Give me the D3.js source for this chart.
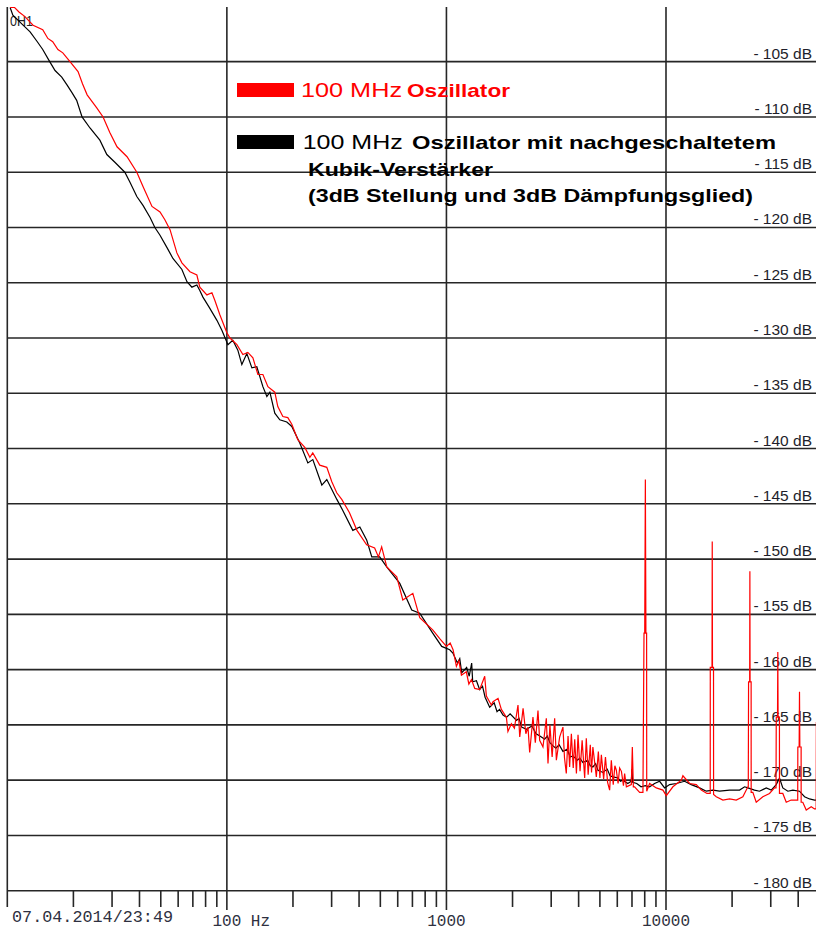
<!DOCTYPE html>
<html>
<head>
<meta charset="utf-8">
<script src="https://cdn.jsdelivr.net/npm/d3@7"></script>
<style>
  body { margin: 0; background: #fff; }
  svg { display: block; }
</style>
</head>
<body>
<svg id="phaseNoise" width="816" height="931"></svg>
<script>
// frequency [Hz], level [dB]
var redLow = [[10.3,-100.1],[10.8,-100.1],[11.3,-100.5],[12.0,-100.9],[13.1,-101.7],[14.5,-102.1],[15.3,-102.9],[16.1,-103.2],[17.0,-103.9],[17.9,-104.2],[19.3,-105.0],[21.0,-105.9],[22.0,-107.0],[23.1,-108.0],[25.6,-109.2],[27.3,-110.0],[29.3,-111.4],[31.6,-112.7],[35.1,-113.6],[38.9,-115.0],[41.5,-116.3],[45.6,-118.1],[49.6,-118.6],[52.2,-119.3],[55.1,-120.2],[59.2,-122.3],[62.4,-123.2],[67.9,-124.0],[73.0,-124.3],[75.3,-125.4],[81.1,-126.1],[85.5,-125.9],[88.2,-126.6],[92.9,-127.9],[99.9,-129.5],[103.3,-130.0],[111.1,-130.6],[118.3,-131.5],[124.6,-131.3],[131.4,-131.8],[138.4,-133.3],[145.9,-133.3],[153.8,-134.4],[165.3,-134.9],[170.6,-136.2],[179.9,-137.1],[189.5,-137.2],[197.6,-137.8],[210.4,-139.2],[226.5,-139.9],[238.8,-140.8],[246.2,-140.4],[264.9,-141.5],[285.2,-141.7],[300.6,-143.0],[316.5,-144.0],[333.6,-144.6],[361.8,-145.8],[391.3,-147.4],[433.1,-148.7],[471,-149.0],[490,-149.8],[507,-148.9],[535,-150.7],[594,-151.6],[633,-153.7],[703,-153.1],[756,-155.3],[866,-156.4],[932,-157.2],[1000,-157.9]];
var redMid = [[1040,-157.6],[1072,-158.2],[1110,-159.7],[1140,-159.2],[1170,-160.5],[1232,-160.2],[1265,-161.3],[1300,-160.9],[1346,-161.7],[1418,-161.8],[1494,-160.6],[1520,-162.4],[1602,-163.2],[1630,-162.9],[1718,-162.6],[1779,-163.6],[1875,-164.3],[1906,-165.6],[1976,-164.9],[2040,-165.3],[2118,-163.2],[2157,-166.1],[2234,-163.5],[2300,-165.8],[2352,-165.2],[2394,-167.5],[2478,-164.3],[2540,-166.6],[2612,-163.7],[2658,-166.4],[2752,-167.0],[2851,-164.4],[2901,-168.5],[2960,-165.0],[3030,-167.9],[3111,-164.4],[3167,-168.2],[3278,-166.1],[3393,-165.2],[3450,-168.0],[3515,-169.4],[3580,-166.0],[3640,-168.8],[3707,-165.8],[3780,-168.9],[3840,-166.3],[3908,-169.4],[3975,-165.9],[4060,-169.2],[4150,-166.4],[4262,-169.8],[4335,-166.2],[4420,-169.5],[4520,-166.8],[4580,-169.3],[4645,-167.0],[4816,-169.7],[4920,-167.4],[5000,-169.8],[5077,-167.7],[5200,-169.9],[5300,-167.9],[5420,-170.2],[5537,-170.9],[5636,-168.2],[5750,-170.4],[5850,-168.7],[5940,-169.1],[6050,-170.3],[6150,-168.9],[6266,-169.2],[6400,-170.5],[6480,-169.4],[6600,-170.6],[6950,-170.4],[7025,-167.0],[7100,-170.6],[7194,-170.6],[7585,-171.1],[7852,-171.1]];
var redHigh = [[7940,-156.7],[8000,-156.7],[8054,-142.8],[8100,-156.7],[8160,-156.7],[8170,-171.0],[8421,-170.3],[9032,-170.7],[9682,-170.9],[10030,-171.4],[10750,-170.6],[11740,-170.0],[11940,-169.6],[12810,-170.3],[13740,-170.4],[14480,-170.9],[15360,-171.2],[15900,-171.2],[15910,-159.8],[16200,-159.8],[16240,-148.4],[16280,-159.8],[16460,-159.8],[16470,-171.3],[16940,-171.5],[18160,-171.8],[19480,-171.7],[20890,-171.8],[22390,-171.5],[23600,-170.6],[23700,-170.6],[23770,-161.1],[24050,-161.1],[24100,-151.1],[24150,-161.1],[24420,-161.1],[24430,-171.1],[24860,-171.1],[25760,-172.0],[27610,-171.5],[29610,-171.2],[31190,-170.7],[31700,-170.7],[31780,-164.3],[32200,-164.3],[32300,-158.4],[32400,-164.3],[32860,-164.3],[32870,-171.2],[34040,-171.2],[35290,-172.0],[37160,-171.8],[39170,-171.8],[39800,-171.8],[39850,-167.0],[40400,-167.0],[40550,-162.0],[40700,-167.0],[41250,-167.0],[41260,-172.0],[41980,-172.0],[43520,-172.7],[45850,-172.4],[47480,-172.6],[48300,-172.6],[48400,-164.8],[49500,-164.8]];

var blackLow = [[10.3,-100.1],[10.6,-100.8],[11.8,-101.7],[12.7,-102.3],[13.7,-103.2],[14.5,-103.9],[15.6,-105.0],[16.5,-105.8],[17.7,-106.4],[18.7,-107.1],[19.7,-107.8],[20.7,-108.5],[21.9,-110.0],[23.8,-111.0],[26.4,-112.1],[28.4,-113.4],[30.9,-114.1],[34.3,-115.0],[36.2,-115.9],[38.9,-117.2],[41.5,-118.0],[44.7,-119.1],[47.0,-120.0],[49.6,-120.7],[53.3,-121.8],[56.8,-122.8],[62.4,-123.8],[65.8,-124.9],[69.3,-125.4],[73.0,-125.2],[75.3,-125.7],[77.8,-126.3],[83,-127.2],[90.1,-128.4],[94.9,-129.3],[101.1,-130.6],[106.4,-130.2],[112.2,-131.1],[117.0,-132.4],[123.3,-131.4],[130.0,-132.7],[136.9,-132.6],[145.9,-134.4],[152.1,-135.3],[157.0,-134.9],[165.3,-136.8],[174.2,-137.4],[187.5,-137.6],[197.6,-138.0],[214.8,-139.5],[233.8,-141.3],[246.3,-141.0],[270.7,-143.3],[285.2,-142.8],[316.9,-144.6],[337.3,-145.6],[374.6,-147.4],[403.3,-147.1],[433.7,-148.3],[457.1,-149.8],[496.6,-149.8],[534.6,-150.7],[613.1,-152.2],[695.0,-154.6],[755.7,-154.9],[865.9,-156.7],[951.7,-157.9],[1035,-158.2]];
var blackMid = [[1070,-158.5],[1122,-159.4],[1150,-159.0],[1174,-160.3],[1236,-159.8],[1270,-160.6],[1303,-159.4],[1317,-161.1],[1370,-161.0],[1416,-161.8],[1460,-161.5],[1500,-162.5],[1574,-163.4],[1650,-163.0],[1700,-163.8],[1746,-163.6],[1810,-164.1],[1879,-164.3],[1950,-164.0],[2085,-164.6],[2140,-164.4],[2200,-165.2],[2316,-165.4],[2450,-165.1],[2560,-165.8],[2665,-166.0],[2800,-166.3],[2880,-166.0],[2958,-166.6],[3060,-166.9],[3150,-167.1],[3260,-166.8],[3393,-167.4],[3550,-167.2],[3660,-167.9],[3766,-167.8],[3950,-168.2],[4050,-168.0],[4183,-168.4],[4400,-168.2],[4520,-168.7],[4645,-168.8],[4780,-168.5],[4900,-169.1],[5159,-169.3],[5400,-169.0],[5560,-169.6],[5728,-169.7],[6050,-169.8],[6200,-170.1],[6362,-170.0],[6700,-170.3],[6950,-170.1],[7000,-169.0],[7050,-170.2],[7357,-170.3],[7700,-170.6],[8050,-170.5]];
var blackHigh = [[8421,-170.6],[8872,-170.3],[9352,-170.1],[9855,-170.7],[10385,-170.4],[11140,-170.3],[12150,-170.1],[13030,-170.4],[14220,-170.7],[15260,-171.0],[16350,-170.9],[17540,-171.0],[19480,-170.9],[21630,-170.9],[22800,-170.6],[23600,-170.7],[25300,-170.9],[26670,-171.0],[28620,-170.7],[30140,-170.9],[31770,-170.4],[32880,-169.8],[34040,-170.7],[35890,-171.0],[37830,-170.9],[40550,-171.0],[42760,-171.5],[45050,-171.7],[47480,-171.8],[50000,-171.8]];

var xDecades = [10, 100, 1000, 10000];
var xMinor = [20,30,40,50,60,70,80,90,200,300,400,500,600,700,800,900,2000,3000,4000,5000,6000,7000,8000,9000,20000,30000,40000];
var xLabels = ["", "100 Hz", "1000", "10000"];
var yTicks = [-105,-110,-115,-120,-125,-130,-135,-140,-145,-150,-155,-160,-165,-170,-175,-180];
var dateLabel = "07.04.2014/23:49";

var svg = d3.select("svg#phaseNoise");

// log frequency axis, one decade is ~220px
var x = d3.scaleLog().domain([10, 10000]).range([7.3, 666]);
var y = d3.scaleLinear().domain([-100, -180]).range([6.4, 890.7]);

var grid = svg.append("g").attr("stroke", "#262626").attr("stroke-width", 1.6);

// horizontal grid every 5 dB
grid.selectAll("line.h").data(yTicks).enter().append("line")
    .attr("x1", x(10)).attr("x2", 816)
    .attr("y1", function(d) { return y(d); })
    .attr("y2", function(d) { return y(d); });

// decade lines, run through the axis down past the ticks
grid.selectAll("line.v").data(xDecades).enter().append("line")
    .attr("x1", function(d) { return x(d); })
    .attr("x2", function(d) { return x(d); })
    .attr("y1", 7)
    .attr("y2", function(d) { return d === 10 ? 907 : 910; });

// minor ticks below the bottom line
grid.selectAll("line.m").data(xMinor).enter().append("line")
    .attr("x1", function(d) { return x(d); })
    .attr("x2", function(d) { return x(d); })
    .attr("y1", y(-180))
    .attr("y2", 907);

// dB labels sit just above their grid line
svg.append("g").selectAll("text").data(yTicks).enter().append("text")
    .attr("x", 812)
    .attr("y", function(d) { return y(d) - 3; })
    .attr("text-anchor", "end")
    .attr("font-family", "Liberation Sans, Arial, sans-serif")
    .attr("font-size", 15.5)
    .attr("fill", "#1e1e2a")
    .text(function(d) { return "- " + Math.abs(d) + " dB"; });

// frequency labels, the number part centred on the decade line
var mono = "Liberation Mono, Courier New, monospace";
svg.append("g").selectAll("text").data(xDecades).enter().append("text")
    .attr("x", function(d) { return x(d) - String(d).length * 4.8; })
    .attr("y", 926)
    .attr("font-family", mono)
    .attr("font-size", 16)
    .attr("fill", "#2e3040")
    .text(function(d, i) { return xLabels[i]; });

svg.append("text")
    .attr("x", 12).attr("y", 922)
    .attr("font-family", mono).attr("font-size", 16)
    .attr("textLength", 161).attr("lengthAdjust", "spacingAndGlyphs")
    .attr("fill", "#2e3040")
    .text(dateLabel);

svg.append("text")
    .attr("x", 10).attr("y", 26)
    .attr("font-family", "Liberation Sans, Arial, sans-serif").attr("font-size", 15)
    .attr("textLength", 23).attr("lengthAdjust", "spacingAndGlyphs")
    .attr("fill", "#222")
    .text("0H1");

var line = d3.line()
    .x(function(d) { return x(d[0]); })
    .y(function(d) { return y(d[1]); });

svg.append("path")
    .datum(blackLow.concat(blackMid, blackHigh))
    .attr("fill", "none")
    .attr("stroke", "#000")
    .attr("stroke-width", 1.2)
    .attr("d", line);

svg.append("path")
    .datum(redLow.concat(redMid, redHigh))
    .attr("fill", "none")
    .attr("stroke", "#ff0000")
    .attr("stroke-width", 1.2)
    .attr("d", line);

// legend, text is stretched wide in the original so use textLength
var sans = "Liberation Sans, Arial, sans-serif";
function legendText(tx, ty, str, len, bold, size, col) {
  svg.append("text")
    .attr("x", tx).attr("y", ty)
    .attr("font-family", sans)
    .attr("font-size", size)
    .attr("font-weight", bold ? "bold" : "normal")
    .attr("textLength", len).attr("lengthAdjust", "spacingAndGlyphs")
    .attr("fill", col)
    .text(str);
}

svg.append("rect").attr("x", 237).attr("y", 83).attr("width", 57).attr("height", 14).attr("fill", "#ff0000");
legendText(301, 97, "100 MHz", 101, false, 20, "#ff0000");
legendText(407, 97, "Oszillator", 103, true, 19, "#ff0000");

svg.append("rect").attr("x", 237).attr("y", 135).attr("width", 57).attr("height", 14).attr("fill", "#000");
legendText(302.7, 149, "100 MHz", 100, false, 20, "#000");
legendText(412, 148.5, "Oszillator mit nachgeschaltetem", 364, true, 19, "#000");
legendText(308, 175.5, "Kubik-Verstärker", 185, true, 19, "#000");
legendText(308, 202, "(3dB Stellung und 3dB Dämpfungsglied)", 445, true, 19, "#000");
</script>
</body>
</html>
